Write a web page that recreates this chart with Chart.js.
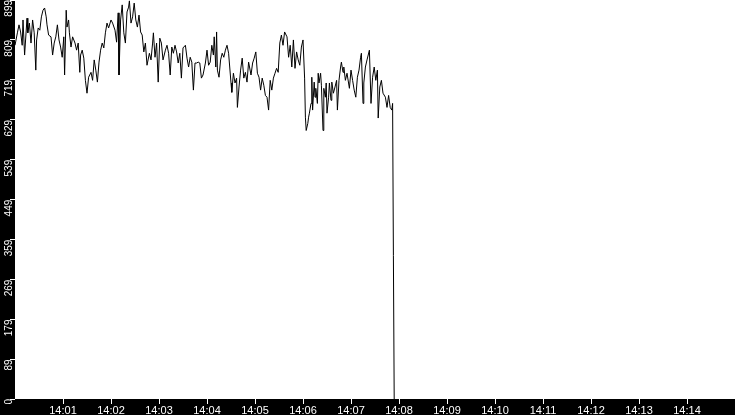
<!DOCTYPE html>
<html>
<head>
<meta charset="utf-8">
<script src="https://cdn.jsdelivr.net/npm/chart.js@4.4.1/dist/chart.umd.min.js"></script>
<style>
  html, body { margin: 0; padding: 0; background: #000; }
  #wrap { width: 735px; height: 415px; position: relative; }
</style>
</head>
<body>
<div id="wrap"><canvas id="c"></canvas></div>
<script>
// Time offsets in seconds after 14:00:00
const seconds = [
  0,3,5,7,9,10,12,15,16,18,20,22,24,26,27,29,31,33,35,37,39,40,42,45,47,49,51,53,55,57,59,61,62,64,65,67,68,70,72,75,77,79,81,82,84,86,88,90,92,95,97,99,101,103,105,107,109,111,113,115,117,120,122,
  125,127,129,130,132,134,136,138,140,142,143,145,147,149,151,153,155,157,159,161,163,165,168,170,172,173,175,177,179,181,183,185,188,190,192,194,196,198,200,202,204,206,208,210,213,215,217,219,221,223,225,227,229,231,233,235,238,240,242,244,
  246,248,249,251,252,253,255,257,259,261,263,265,267,270,271,273,275,277,278,280,282,284,286,288,290,292,295,297,299,301,303,305,307,309,311,313,315,317,319,321,323,325,327,329,331,333,335,337,340,342,344,346,348,350,352,354,356,358,360,362,363,
  364,366,367,368,370,371,372,374,375,376,378,379,380,382,383,385,386,388,389,390,392,393,395,396,398,400,402,403,405,407,408,410,411,413,415,418,420,422,424,426,428,430,432,433,435,436,438,440,443,445,447,449,451,453,454,456,458,460,463,465,467,469,471,472,
  473,474
];
const values = [
  797,825,843,827,797,854,775,858,825,847,802,854,825,741,809,836,831,861,876,881,861,843,820,816,775,802,816,843,809,793,770,816,730,876,838,854,825,793,816,802,786,802,736,775,786,768,718,689,725,736,718,764,741,714,759,786,802,791,825,847,836,854,847,
  831,804,870,730,854,888,825,802,872,883,897,847,861,892,854,838,865,827,820,782,802,752,779,764,802,825,770,802,714,813,802,764,786,797,779,730,793,779,797,782,757,779,723,791,797,768,748,770,759,696,757,757,759,757,723,730,757,786,752,759,
  797,775,816,748,827,741,725,764,779,770,786,797,779,712,691,734,712,723,657,703,741,768,723,736,714,759,730,757,768,782,734,725,696,723,707,684,680,651,718,696,723,734,745,736,802,820,797,827,816,770,797,748,809,745,782,764,752,793,809,723,635,
  605,621,635,644,666,725,651,714,680,700,666,734,712,734,707,605,700,680,712,644,680,712,673,714,689,703,718,651,718,748,759,736,748,718,734,700,741,718,696,680,725,741,770,779,666,712,748,764,786,666,725,748,718,741,633,703,718,689,680,657,684,657,651,666,
  323,0
];
const xTickSeconds = [60,120,180,240,300,360,420,480,540,600,660,720,780,840];
const xTickLabels = ['14:01','14:02','14:03','14:04','14:05','14:06','14:07','14:08','14:09','14:10','14:11','14:12','14:13','14:14'];
const yTickValues = [0,89,179,269,359,449,539,629,719,809,899];
const yTickLabels = ['0','89','179','269','359','449','539','629','719','809','899'];

const bgPlugin = {
  id: 'bg',
  beforeDraw(chart) {
    const ctx = chart.ctx, a = chart.chartArea;
    ctx.save();
    ctx.fillStyle = '#000';
    ctx.fillRect(0, 0, chart.width, chart.height);
    ctx.fillStyle = '#fff';
    ctx.fillRect(a.left, a.top, a.right - a.left, a.bottom - a.top);
    ctx.restore();
  }
};

new Chart(document.getElementById('c'), {
  type: 'line',
  data: {
    datasets: [{
      data: seconds.map((s, i) => ({ x: s, y: values[i] })),
      borderColor: '#000',
      borderWidth: 1,
      pointRadius: 0,
      tension: 0,
      fill: false
    }]
  },
  plugins: [bgPlugin],
  options: {
    animation: false,
    responsive: true,
    maintainAspectRatio: false,
    devicePixelRatio: 1,
    layout: { padding: 0 },
    plugins: { legend: { display: false }, tooltip: { enabled: false } },
    scales: {
      x: {
        type: 'linear', min: 0, max: 900,
        afterBuildTicks: ax => { ax.ticks = xTickSeconds.map(v => ({ value: v })); },
        afterFit: ax => { ax.height = 16; ax.paddingLeft = 0; ax.paddingRight = 0; ax.paddingTop = 0; ax.paddingBottom = 0; },
        ticks: {
          callback: (v, i) => xTickLabels[i],
          color: '#fff', font: { family: 'Liberation Sans', size: 11 },
          padding: 0, maxRotation: 0, minRotation: 0, autoSkip: false
        },
        grid: { drawOnChartArea: false, color: '#fff', tickLength: 5, tickWidth: 1 },
        border: { display: false }
      },
      y: {
        type: 'linear', min: 0, max: 899,
        afterBuildTicks: ax => { ax.ticks = yTickValues.map(v => ({ value: v })); },
        afterFit: ax => { ax.width = 15; ax.paddingTop = 0; ax.paddingBottom = 0; ax.paddingLeft = 0; ax.paddingRight = 0; },
        ticks: {
          callback: (v, i) => yTickLabels[i],
          color: '#fff', font: { family: 'Liberation Sans', size: 10 },
          padding: 1, minRotation: 90, maxRotation: 90, autoSkip: false
        },
        grid: { drawOnChartArea: false, color: '#fff', tickLength: 5, tickWidth: 1 },
        border: { display: false }
      }
    }
  }
});
</script>
</body>
</html>
